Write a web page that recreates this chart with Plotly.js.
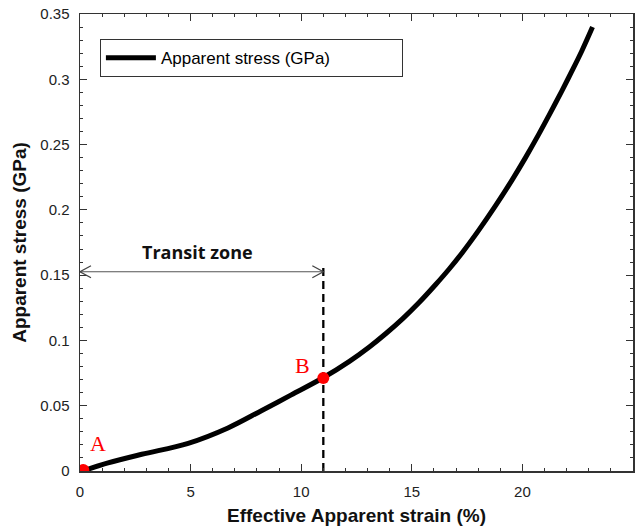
<!DOCTYPE html>
<html>
<head>
<meta charset="utf-8">
<script src="https://cdn.plot.ly/plotly-3.0.1.min.js"></script>
<style>html,body{margin:0;padding:0;background:#fff;}#chart{width:641px;height:532px;}</style>
</head>
<body>
<div id="chart"></div>
<script>
// Curve data
var strain = [0.12, 1.27, 2.79, 4.89, 6.69, 8.20, 9.55, 10.97, 12.18, 13.08, 13.83, 14.58, 15.33, 16.08, 16.68, 17.28, 18.03, 18.78, 19.53, 20.14, 20.73, 21.19, 21.78, 22.23, 22.68, 23.17];
var stress = [0.0, 0.0062, 0.0128, 0.0212, 0.0330, 0.0462, 0.0583, 0.0712, 0.0840, 0.0950, 0.1053, 0.1165, 0.1290, 0.1428, 0.1545, 0.1672, 0.1845, 0.2030, 0.2228, 0.2400, 0.2576, 0.2720, 0.2910, 0.3060, 0.3215, 0.3400];
// Marked points A and B
var pointNames = ['A', 'B'];
var pointX = [0.15, 11.0];
var pointY = [0.0008, 0.0712];
// Transit zone
var transitX = [0, 11.0];
var transitY = [0.1526, 0.1526];
var dashX = [11.0, 11.0];
var dashY = [0, 0.159];
var transitLabel = 'Transit zone';
var seriesName = 'Apparent stress (GPa)';
var xTicks = [0, 5, 10, 15, 20, 25];
var yTicks = [0, 0.05, 0.1, 0.15, 0.2, 0.25, 0.3, 0.35];

var traces = [
  {x: transitX, y: transitY, mode: 'lines', line: {color: '#555', width: 1.2}, showlegend: false, hoverinfo: 'skip'},
  {x: dashX, y: dashY, mode: 'lines', line: {color: '#000', width: 2.3, dash: '8px,5px'}, showlegend: false, hoverinfo: 'skip'},
  {x: strain, y: stress, mode: 'lines', name: seriesName, line: {color: '#000', width: 5, shape: 'spline', smoothing: 1}},
  {x: pointX, y: pointY, mode: 'markers', marker: {color: '#ff0000', size: 12, line: {width: 0}}, showlegend: false, hoverinfo: 'skip'}
];

var arrowPath = function(dir){ // open V in pixels
  return dir < 0 ? 'M 11,6 L 0,0 L 11,-6' : 'M -11,6 L 0,0 L -11,-6';
};

var layout = {
  width: 641, height: 532,
  margin: {l: 80, r: 8, t: 14, b: 61},
  paper_bgcolor: '#fff', plot_bgcolor: '#fff',
  font: {family: 'Arial, Liberation Sans, sans-serif', color: '#222'},
  showlegend: true,
  legend: {x: 0.036, y: 0.945, xanchor: 'left', yanchor: 'top', orientation: 'h', bgcolor: '#fff', bordercolor: '#333', borderwidth: 1,
           font: {size: 17, color: '#000'}, entrywidth: 236, itemwidth: 50},
  xaxis: {range: [0, 25], tickvals: xTicks, ticks: 'inside', ticklen: 7, tickcolor: '#333', mirror: 'allticks',
          showline: true, linecolor: '#333', linewidth: 1.5, showgrid: false, zeroline: false,
          tickfont: {size: 15, color: '#222'}, ticklabelstandoff: 6,
          minor: {dtick: 1, ticks: 'inside', ticklen: 3, tickcolor: '#333', showgrid: false},
          title: {text: '<b>Effective Apparent strain (%)</b>', font: {size: 19, color: '#111'}, standoff: 10}},
  yaxis: {range: [0, 0.35], tickvals: yTicks, ticktext: yTicks.map(String), ticks: 'inside', ticklen: 7, tickcolor: '#333', mirror: 'allticks',
          showline: true, linecolor: '#333', linewidth: 1.5, showgrid: false, zeroline: false,
          tickfont: {size: 15, color: '#222'}, ticklabelstandoff: 6,
          minor: {dtick: 0.01, ticks: 'inside', ticklen: 3, tickcolor: '#333', showgrid: false},
          title: {text: '<b>Apparent stress (GPa)</b>', font: {size: 19, color: '#111'}, standoff: 8}},
  shapes: [
    {type: 'path', xref: 'x', yref: 'y', xsizemode: 'pixel', ysizemode: 'pixel', xanchor: transitX[0], yanchor: transitY[0],
     path: arrowPath(-1), line: {color: '#444', width: 1.3}},
    {type: 'path', xref: 'x', yref: 'y', xsizemode: 'pixel', ysizemode: 'pixel', xanchor: transitX[1], yanchor: transitY[1],
     path: arrowPath(1), line: {color: '#444', width: 1.3}}
  ],
  annotations: [
    {x: (transitX[0] + transitX[1]) / 2, y: transitY[0], xshift: -4, yshift: 20, text: '<b>' + transitLabel + '</b>', showarrow: false,
     font: {size: 18, color: '#111', family: 'Open Sans, Arial, sans-serif'}, xanchor: 'center'},
    {x: pointX[0], y: pointY[0], xshift: 15, yshift: 26, text: pointNames[0], showarrow: false,
     font: {size: 22, color: '#ff0000', family: 'Liberation Serif, Times New Roman, serif'}},
    {x: pointX[1], y: pointY[1], xshift: -21, yshift: 13, text: pointNames[1], showarrow: false,
     font: {size: 22, color: '#ff0000', family: 'Liberation Serif, Times New Roman, serif'}}
  ]
};

Plotly.newPlot('chart', traces, layout, {displayModeBar: false, staticPlot: true});
</script>
</body>
</html>
